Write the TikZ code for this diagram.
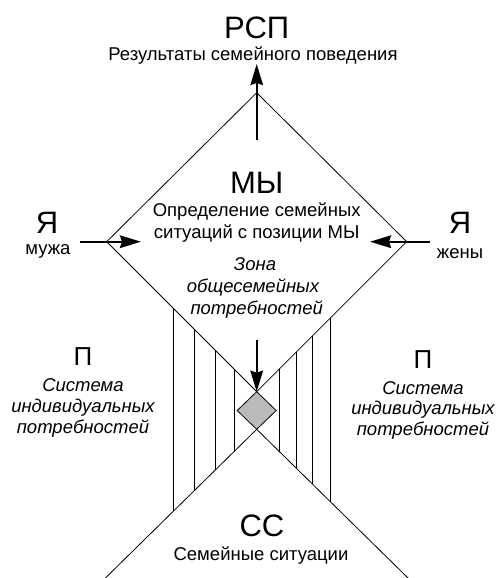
\documentclass[tikz,border=0pt]{standalone}
\usepackage{fontspec}
\setmainfont{Liberation Sans}
\usetikzlibrary{arrows.meta, positioning, calc}

\begin{document}
\begin{tikzpicture}[
    x=1pt, y=-1pt,
    >={Stealth[length=21pt, width=12.5pt, inset=2pt]},
    edge/.style={line width=0.8pt},
    hatch/.style={line width=0.8pt},
    arrow/.style={->, line width=2.4pt},
    kernel/.style={fill=black!27, draw, line width=0.8pt},
    big/.style={font=\fontsize{31}{32}\selectfont, inner sep=0pt, anchor=base},
    mid/.style={font=\fontsize{26}{27}\selectfont, inner sep=0pt, anchor=base},
    txt/.style={font=\fontsize{18.5}{21.5}\selectfont, inner sep=0pt, anchor=base},
    itxt/.style={font=\fontsize{18.5}{21.5}\selectfont\itshape, inner sep=0pt, anchor=base},
]
\useasboundingbox (0,0) rectangle (497,578);

% ============ SHAPE ============

% upper diamond (MY)
\coordinate (top)   at (256.7, 92.7);
\coordinate (left)  at (106.7, 241.7);
\coordinate (right) at (406.7, 241.7);
\coordinate (low)   at (256.7, 391.7);

% lower wedge (CC)
\coordinate (apex)     at (256.7, 429.3);
\coordinate (wedgeL)   at (105.4, 578);
\coordinate (wedgeR)   at (408.0, 578);

\draw[edge] (left) -- (top) -- (right) -- (low) -- cycle;
\draw[edge] (wedgeL) -- (apex) -- (wedgeR);

% vertical hatching between the two
\foreach \x in {173.3, 194, 215, 234}
    \draw[hatch] (\x, {241.7+\x-106.7}) -- (\x, {429.3+(256.7-\x)*0.983});
\foreach \x in {279.3, 296, 312.7, 330.7}
    \draw[hatch] (\x, {241.7+406.7-\x}) -- (\x, {429.3+(\x-256.7)*0.983});

% grey kernel
\draw[kernel] (low) -- ++(19.5, 18.8) -- (apex) -- ++(-19.5, -18.8) -- cycle;

% ============ ARROWS ============
\coordinate (upfoot) at (256.7, 140);
\coordinate (uptip)  at (256.7, 64);
\coordinate (hfoot)  at (80, 241.7);
\coordinate (htip)   at (141, 241.7);
\coordinate (wfoot)  at (430, 241.7);
\coordinate (wtip)   at (370, 241.7);
\coordinate (dfoot)  at (256.7, 340);

\draw[arrow] (upfoot) -- (uptip);
\draw[arrow] (hfoot) -- (htip);
\draw[arrow] (wfoot) -- (wtip);
\draw[arrow] (dfoot) -- (low);

% ============ LABELS ============
\node[big] (rsp)     at (256.7, 38)   {РСП};
\node[txt] (rspdesc) at (253, 60.7) {Результаты семейного поведения};

\node[big] (we)   at (256.7, 193.3) {МЫ};
\node[txt] (we1)  at (256.7, 216.5) {Определение семейных};
\node[txt] (we2)  at (256.7, 238.3) {ситуаций с позиции МЫ};

\node[big] (ih)   at (47, 233.3) {Я};
\node[txt] (ih1)  at (48, 254)   {мужа};
\node[big] (iw)   at (460, 233.3) {Я};
\node[txt] (iw1)  at (460, 258)  {жены};

\node[itxt] (zone1) at (255, 270.7) {Зона};
\node[itxt] (zone2) at (253, 292)   {общесемейных};
\node[itxt] (zone3) at (256.7, 314) {потребностей};

\node[mid]  (ph)   at (83, 365)   {П};
\node[itxt] (ph1)  at (83, 391.7) {Система};
\node[itxt] (ph2)  at (83, 412.5) {индивидуальных};
\node[itxt] (ph3)  at (83, 433.3) {потребностей};

\node[mid]  (pw)   at (423, 368.3) {П};
\node[itxt] (pw1)  at (423, 394)  {Система};
\node[itxt] (pw2)  at (423, 414.5) {индивидуальных};
\node[itxt] (pw3)  at (423, 435)  {потребностей};

\node[big] (cc)     at (262, 536.7) {СС};
\node[txt] (ccdesc) at (261, 560.7) {Семейные ситуации};

\end{tikzpicture}
\end{document}
